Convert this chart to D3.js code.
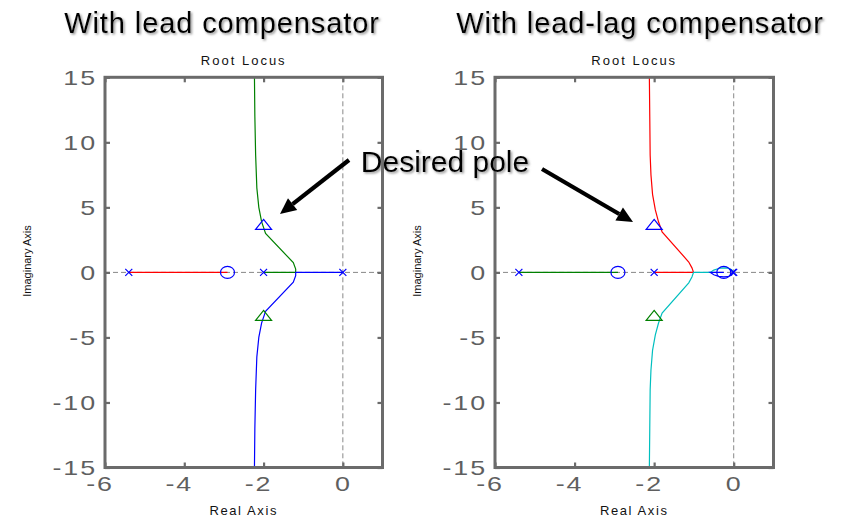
<!DOCTYPE html>
<html><head><meta charset="utf-8">
<script src="https://cdn.jsdelivr.net/npm/d3@7"></script>
<style>
html,body{margin:0;padding:0;background:#fff;}
svg{display:block;font-family:"Liberation Sans",Arial,sans-serif;}
</style></head>
<body>
<script>
// ---------- data ----------
const xTicks = [-6, -4, -2, 0];
const yTicks = [-15, -10, -5, 0, 5, 10, 15];
const xDomain = [-6, 1];
const yDomain = [-15, 15];

const titles = ["With lead compensator", "With lead-lag compensator"];
const annotation = "Desired pole";

// lead compensator
const leadPoles = [-5.4, -2, 0];
const leadZeros = [-2.91];
const leadRed = [[-5.4,0],[-2.91,0]];
const leadGreen = [[-2,0],[-1.19,0],[-1.19,0.25],[-1.25,0.75],[-1.95,3.0],[-2.05,3.9],[-2.12,5.0],[-2.17,6.5],[-2.2,9],[-2.22,12],[-2.23,15]];
const leadBlue = [[0,0],[-1.19,0],[-1.19,-0.25],[-1.25,-0.75],[-1.95,-3.0],[-2.05,-3.9],[-2.12,-5.0],[-2.17,-6.5],[-2.2,-9],[-2.22,-12],[-2.23,-15]];

// lead-lag compensator
const lagPoles = [-5.4, -2, 0, -0.02];
const lagZeros = [-2.91, -0.25];
const lagGreen = [[-5.4,0],[-2.91,0]];
const lagRed = [[-2,0],[-1.01,0],[-1.05,0.35],[-1.13,0.8],[-1.8,3.12],[-1.89,3.89],[-1.97,4.8],[-2.04,6],[-2.08,7.5],[-2.1,9],[-2.11,12],[-2.12,15]];
const lagCyan = [[0,0],[-0.05,0.2],[-0.15,0.33],[-0.25,0.35],[-0.38,0.3],[-0.5,0.18],[-0.59,0],[-1.01,0],[-1.05,-0.35],[-1.13,-0.8],[-1.8,-3.12],[-1.89,-3.89],[-1.97,-4.8],[-2.04,-6],[-2.08,-7.5],[-2.1,-9],[-2.11,-12],[-2.12,-15]];
const lagBlue = [[-0.02,0],[-0.05,-0.2],[-0.15,-0.33],[-0.25,-0.35],[-0.38,-0.3],[-0.5,-0.18],[-0.59,0],[-0.25,0]];

// desired closed-loop poles (triangles): [re, im, colour]
const desiredPoles = [[-2, 3.5, "#0000ff"], [-2, -3.5, "#008000"]];

// ---------- drawing ----------
const W = 848, H = 518;
const svg = d3.select("body").append("svg").attr("width", W).attr("height", H);
const defs = svg.append("defs");
const sh = defs.append("filter").attr("id","shadow").attr("x","-10%").attr("y","-30%").attr("width","130%").attr("height","170%");
sh.append("feDropShadow").attr("dx",1.5).attr("dy",1.5).attr("stdDeviation",0.9).attr("flood-color","#777").attr("flood-opacity",0.8);

const AX = "#6b6b6b", TXT = "#5f5f5f";
const LS = 1.5;  // tick label letter spacing
const SX = 1.28; // horizontal stretch of tick labels
const panels = [
  {x0:105, x1:382.5, title:titles[0], tx:222, poles:leadPoles, zeros:leadZeros,
   series:[[leadRed,"#ff0000"],[leadGreen,"#008000"],[leadBlue,"#0000ff"]]},
  {x0:495, x1:773.5, title:titles[1], tx:640, poles:lagPoles, zeros:lagZeros,
   series:[[lagGreen,"#008000"],[lagRed,"#ff0000"],[lagCyan,"#00bfbf"],[lagBlue,"#0000ff"]]}
];
const y0 = 77.3, y1 = 467.5;
const fmt = d => String(d);

panels.forEach(p => {
  const x = d3.scaleLinear().domain(xDomain).range([p.x0, p.x1]);
  const y = d3.scaleLinear().domain(yDomain).range([y1, y0]);
  const g = svg.append("g");
  const cx = (p.x0 + p.x1) / 2;

  // titles
  svg.append("text").attr("x", p.tx).attr("y", 33).attr("text-anchor","middle")
    .attr("font-size", 29).attr("letter-spacing", 0.9).attr("fill","#000")
    .attr("filter","url(#shadow)").text(p.title);
  g.append("text").attr("x", cx).attr("y", 65).attr("text-anchor","middle")
    .attr("font-size", 13).attr("letter-spacing", 2).attr("fill","#111").text("Root Locus");
  g.append("text").attr("x", cx).attr("y", 515).attr("text-anchor","middle")
    .attr("font-size", 13).attr("letter-spacing", 1.6).attr("fill","#111").text("Real Axis");
  g.append("text").attr("transform", `translate(${p.x0-74},${261}) rotate(-90)`).attr("text-anchor","middle")
    .attr("font-size", 11).attr("fill","#111").text("Imaginary Axis");

  // dashed zero lines
  g.append("line").attr("x1", p.x0).attr("x2", p.x1).attr("y1", y(0)).attr("y2", y(0))
    .attr("stroke","#888").attr("stroke-width",1).attr("stroke-dasharray","5,3");
  g.append("line").attr("x1", x(0)).attr("x2", x(0)).attr("y1", y0).attr("y2", y1)
    .attr("stroke","#888").attr("stroke-width",1).attr("stroke-dasharray","5,3");

  // loci
  const line = d3.line().x(d => x(d[0])).y(d => y(d[1]));
  p.series.forEach(([pts, col]) => {
    g.append("path").attr("d", line(pts)).attr("fill","none").attr("stroke", col).attr("stroke-width",1.2);
  });

  // poles (x marks)
  p.poles.forEach(v => {
    const px = x(v), py = y(0), s = 3.5;
    g.append("path").attr("d", `M${px-s},${py-s}L${px+s},${py+s}M${px-s},${py+s}L${px+s},${py-s}`)
      .attr("stroke","#0000ff").attr("stroke-width",1.2).attr("fill","none");
  });
  // zeros (circles)
  p.zeros.forEach(v => {
    g.append("ellipse").attr("cx", x(v)).attr("cy", y(0)).attr("rx", 7).attr("ry", 6)
      .attr("fill","none").attr("stroke","#0000ff").attr("stroke-width",1.2);
  });
  // desired poles (triangles)
  desiredPoles.forEach(([re, im, col]) => {
    const px = x(re), py = y(im);
    g.append("path").attr("d", `M${px},${py-7.5}L${px+8},${py+2.5}L${px-8},${py+2.5}Z`)
      .attr("fill","none").attr("stroke", col).attr("stroke-width",1.2);
  });

  // axes (box with inward ticks)
  const axB = d3.axisBottom(x).tickValues(xTicks).tickSize(-5).tickPadding(9).tickFormat(fmt);
  const axT = d3.axisTop(x).tickValues(xTicks).tickSize(-5).tickFormat("");
  const axL = d3.axisLeft(y).tickValues(yTicks).tickSize(-5).tickPadding(10).tickFormat(fmt);
  const axR = d3.axisRight(y).tickValues(yTicks).tickSize(-5).tickFormat("");
  const gb = g.append("g").attr("transform", `translate(0,${y1})`).call(axB);
  const gt = g.append("g").attr("transform", `translate(0,${y0})`).call(axT);
  const gl = g.append("g").attr("transform", `translate(${p.x0},0)`).call(axL);
  const gr = g.append("g").attr("transform", `translate(${p.x1},0)`).call(axR);
  [gb, gt, gl, gr].forEach(a => {
    a.select(".domain").remove();
    a.selectAll(".tick line").attr("stroke", AX).attr("stroke-width", 2.2);
    a.selectAll(".tick text").attr("fill", TXT).attr("font-size", 21)
      .attr("font-family",'"Liberation Sans",Arial,sans-serif').attr("letter-spacing", LS)
      .attr("transform", `scale(${SX},1)`);
  });
  gb.selectAll(".tick text").attr("dy","0.71em").attr("x", 0).attr("dx", d => d < 0 ? -5.5 / SX : 0);
  gl.selectAll(".tick text").attr("x", -8 / SX);
  g.append("rect").attr("x", p.x0).attr("y", y0).attr("width", p.x1 - p.x0).attr("height", y1 - y0)
    .attr("fill","none").attr("stroke", AX).attr("stroke-width", 3);
});

// annotation
svg.append("text").attr("x", 445).attr("y", 172).attr("text-anchor","middle")
  .attr("font-size", 30).attr("fill","#000").attr("filter","url(#shadow)").text(annotation);

function arrow(xa, ya, xb, yb) {
  const ang = Math.atan2(yb - ya, xb - xa), L = 16, Wd = 7.5;
  const bx = xb - L * Math.cos(ang), by = yb - L * Math.sin(ang);
  svg.append("line").attr("x1", xa).attr("y1", ya).attr("x2", bx).attr("y2", by)
    .attr("stroke","#000").attr("stroke-width", 4.2);
  const nx = -Math.sin(ang), ny = Math.cos(ang);
  svg.append("path").attr("d", `M${xb},${yb}L${bx+nx*Wd},${by+ny*Wd}L${bx-nx*Wd},${by-ny*Wd}Z`).attr("fill","#000");
}
arrow(349, 160, 280, 214);
arrow(542, 169, 633, 222);
</script>
</body></html>
